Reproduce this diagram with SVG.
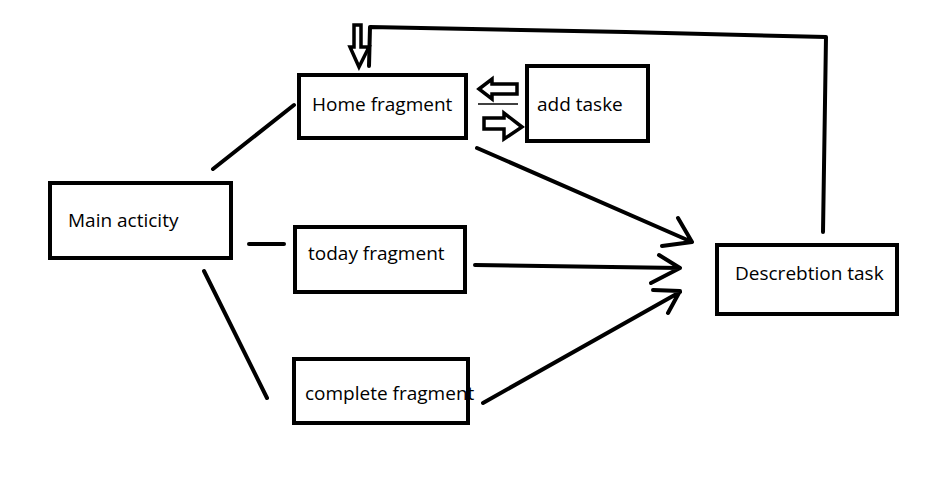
<svg xmlns="http://www.w3.org/2000/svg" width="949" height="501" viewBox="0 0 949 501">
<style>
.box{fill:none;stroke:#000;stroke-width:4}
.ln{fill:none;stroke:#000;stroke-width:4;stroke-linecap:round;stroke-linejoin:round}
.hollow{fill:#fff;stroke:#000;stroke-width:3.5;stroke-linejoin:miter}
.thin{stroke:#000;stroke-width:1.5}
text{font-family:"Open Sans","Liberation Sans",sans-serif;font-size:19px;fill:#000}
</style>
<rect width="949" height="501" fill="#fff"/>
<g id="main-activity">
<rect class="box" x="50" y="183" width="181" height="75"/>
<text x="68" y="227">Main acticity</text>
</g>
<g id="home-fragment">
<rect class="box" x="299" y="75" width="167" height="63"/>
<text x="312" y="111">Home fragment</text>
</g>
<g id="add-taske">
<rect class="box" x="527" y="66" width="121" height="75"/>
<text x="537" y="111">add taske</text>
</g>
<g id="today-fragment">
<rect class="box" x="295" y="227" width="170" height="65"/>
<text x="308" y="260">today fragment</text>
</g>
<g id="complete-fragment">
<rect class="box" x="294" y="359" width="174" height="64"/>
<text x="305" y="400">complete fragment</text>
</g>
<g id="descrebtion-task">
<rect class="box" x="717" y="245" width="180" height="69"/>
<text x="735" y="280">Descrebtion task</text>
</g>
<g id="connectors">
<line class="ln" x1="213" y1="169" x2="294" y2="105"/>
<line class="ln" x1="249" y1="244" x2="284" y2="244"/>
<line class="ln" x1="204" y1="271" x2="267" y2="398"/>
<path class="ln" d="M477 148 L692 242 M678 218 L692 242 L662 246"/>
<path class="ln" d="M475 265 L680 268 M659 255 L680 268 L651 283"/>
<path class="ln" d="M483 403 L680 292 M653 290 L680 291 L668 313"/>
<path class="ln" d="M823 232 L826 37 L626 32 L370 27 L369 66"/>
<polygon class="hollow" points="479,89 492,79 492,84 517,84 517,94 492,94 492,99"/>
<polygon class="hollow" points="522,127 504,113 504,118 484,118 484,129 504,129 504,139"/>
<line class="thin" x1="478" y1="104" x2="518" y2="104"/>
<polygon class="hollow" points="359,67 350,47 354,47 354,25 361,25 361,47 369,47"/>
</g>
</svg>
